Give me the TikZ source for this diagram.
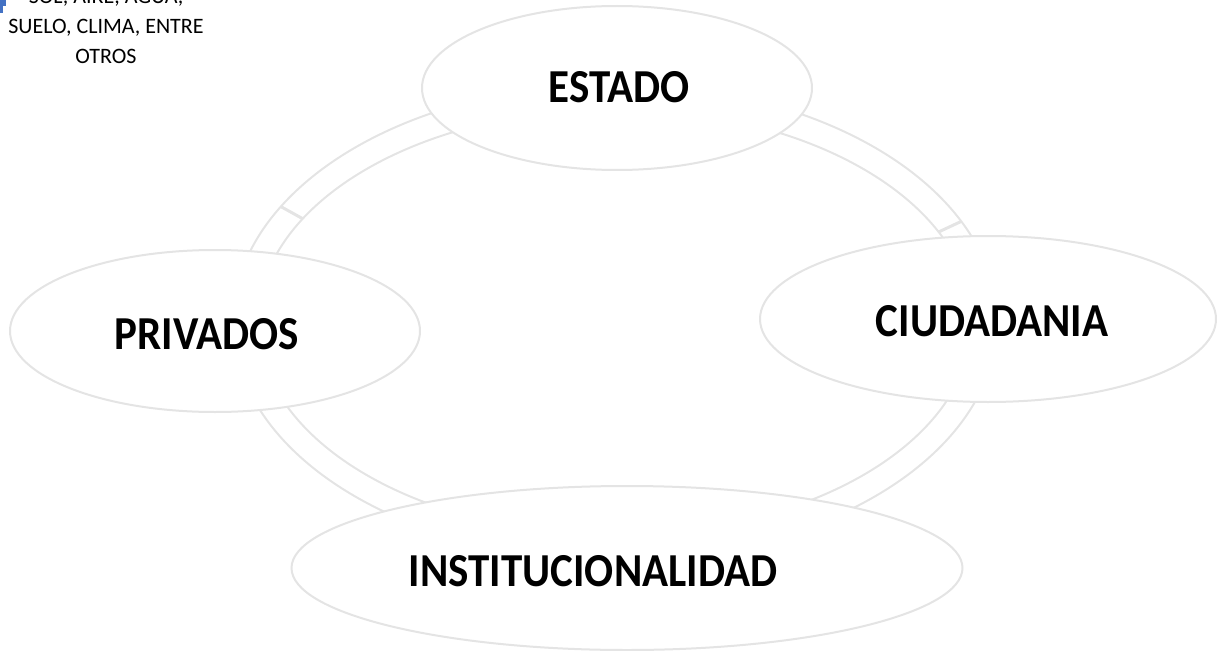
\documentclass[tikz,border=0pt]{standalone}
\usepackage{fontspec}
\setmainfont{Carlito}
\usetikzlibrary{shapes.geometric,calc}
\definecolor{ringgray}{HTML}{E4E4E4}
\definecolor{markblue}{HTML}{4472C4}
\tikzset{
  ringline/.style={draw=ringgray, line width=2pt},
  bubble/.style={ellipse, draw=ringgray, line width=2pt, fill=white, inner sep=0pt},
  bigtext/.style={font=\fontsize{43}{50}\selectfont\bfseries, inner sep=0pt, yscale=1.1},
  notetext/.style={font=\fontsize{22}{30}\selectfont, align=center, inner sep=0pt}
}
\begin{document}
\begin{tikzpicture}[x=1pt,y=1pt]
\useasboundingbox (0,0) rectangle (1217,-650);
\clip (0,0) rectangle (1217,-650);
% ring (cycle arrows)
\draw[ringline] (615,-322) ellipse [x radius=382, y radius=238];
\draw[ringline] (615,-322) ellipse [x radius=357, y radius=213];
\coordinate (lo) at ($(615,-322)+(151:382 and 238)$);
\coordinate (li) at ($(615,-322)+(151:357 and 213)$);
\coordinate (ro) at ($(615,-322)+(25:382 and 238)$);
\coordinate (ri) at ($(615,-322)+(25:357 and 213)$);
\draw[ringline, line width=3pt] (lo) -- (li);
\draw[ringline, line width=3pt] (ro) -- (ri);
% bubbles
\node[bubble, minimum width=390pt, minimum height=164pt] (estado) at (617,-88) {};
\node[bubble, minimum width=456pt, minimum height=166pt] (ciudad) at (988,-319) {};
\node[bubble, minimum width=410pt, minimum height=162pt] (privados) at (215,-331) {};
\node[bubble, minimum width=671pt, minimum height=164pt] (instit) at (627,-568) {};
% labels
\node[bigtext] (testado) at (619,-87) {ESTADO};
\node[bigtext] (tciudad) at (992,-321) {CIUDADANIA};
\node[bigtext] (tprivados) at (207,-334) {PRIVADOS};
\node[bigtext] (tinstit) at (593,-571) {INSTITUCIONALIDAD};
% top-left note
\node[notetext, anchor=center] (note) at (106,-26) {SOL, AIRE, AGUA,\\SUELO, CLIMA, ENTRE\\OTROS};
\fill[markblue] (0,0) rectangle (6,-6);
\fill[markblue] (0,0) rectangle (3,-13);
\end{tikzpicture}
\end{document}
